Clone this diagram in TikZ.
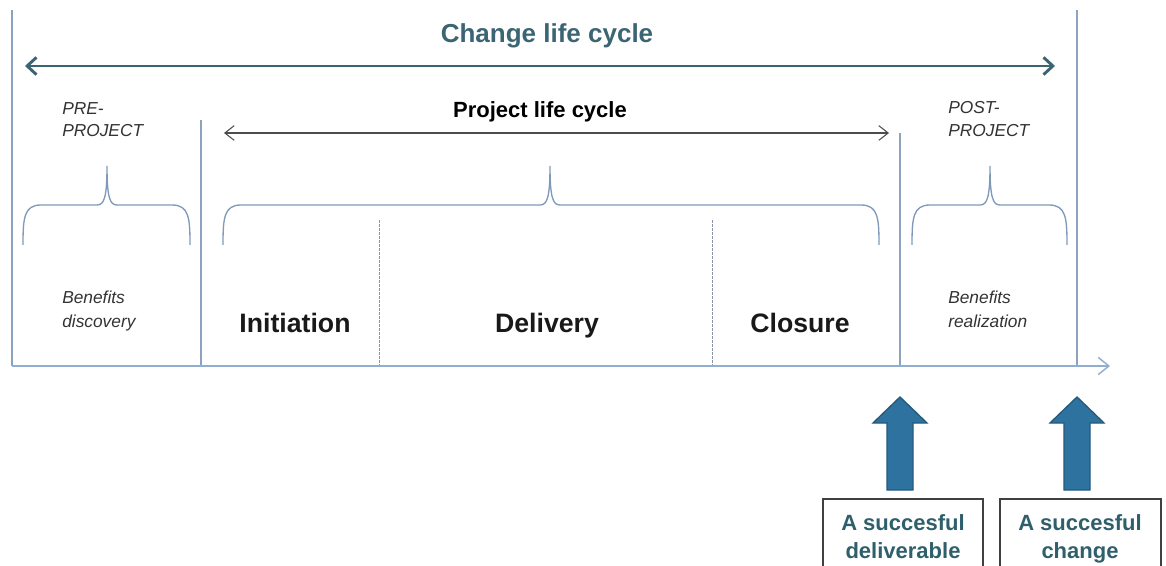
\documentclass[tikz,border=0pt]{standalone}
\usepackage{fontspec}
\setmainfont{Liberation Sans}
\usetikzlibrary{arrows.meta}

\definecolor{frameblue}{HTML}{8CA3C0}
\definecolor{bracecol}{HTML}{7F9AB8}
\definecolor{tealdark}{HTML}{3B6573}
\definecolor{boxtext}{HTML}{2F5F6B}
\definecolor{blockfill}{HTML}{2E73A0}
\definecolor{blockedge}{HTML}{25597C}
\definecolor{axisblue}{HTML}{8FAED0}
\definecolor{dashgray}{HTML}{8A96A8}

\begin{document}
\begin{tikzpicture}[x=0.75pt,y=-0.75pt,
  frameline/.style={draw=frameblue,line width=1.2pt},
  dashline/.style={draw=dashgray,line width=0.7pt,dash pattern=on 2pt off 1pt},
  bracepath/.style={draw=bracecol,line width=1pt},
  changearrow/.style={draw=tealdark,line width=2.2pt,
    arrows={Straight Barb[length=7pt,width=13pt]-Straight Barb[length=7pt,width=13pt]}},
  projarrow/.style={draw=black!70,line width=0.8pt,
    arrows={Straight Barb[length=7pt,width=11pt]-Straight Barb[length=7pt,width=11pt]}},
  axisarrow/.style={draw=axisblue,line width=1.1pt,
    arrows={-Straight Barb[length=8pt,width=13pt]}},
  bigtitle/.style={font=\fontsize{19.5pt}{22pt}\selectfont\bfseries,text=tealdark,anchor=base,inner sep=0pt},
  midtitle/.style={font=\fontsize{16.5pt}{19pt}\selectfont\bfseries,anchor=base,inner sep=0pt},
  phase/.style={font=\fontsize{20pt}{24pt}\selectfont\bfseries,text=black!90,anchor=base,inner sep=0pt},
  smallnote/.style={font=\fontsize{13pt}{16.5pt}\selectfont\itshape,text=black!80,anchor=base west,inner sep=0pt},
  blockarrow/.style={fill=blockfill,draw=blockedge,line width=1pt},
  resultbox/.style={draw=black!75,line width=1.1pt},
  resulttext/.style={font=\fontsize{16.5pt}{21pt}\selectfont\bfseries,text=boxtext,anchor=base,inner sep=0pt}
]
\useasboundingbox (0,0) rectangle (1166,566);
\clip (0,0) rectangle (1166,566);

% frame coordinates
\coordinate (lefttop) at (12,10);
\coordinate (leftbot) at (12,366);
\coordinate (righttop) at (1077,10);
\coordinate (rightbot) at (1077,366);
\coordinate (projstarttop) at (201,120);
\coordinate (projstartbot) at (201,366);
\coordinate (projendtop) at (900,133);
\coordinate (projendbot) at (900,366);
\coordinate (axisend) at (1110,366);
\coordinate (dashAtop) at (379,220);
\coordinate (dashAbot) at (379,366);
\coordinate (dashBtop) at (712,220);
\coordinate (dashBbot) at (712,366);

% vertical boundaries
\draw[frameline] (lefttop) -- (leftbot);
\draw[frameline] (righttop) -- (rightbot);
\draw[frameline] (projstarttop) -- (projstartbot);
\draw[frameline] (projendtop) -- (projendbot);
\draw[dashline] (dashAtop) -- (dashAbot);
\draw[dashline] (dashBtop) -- (dashBbot);

% time axis
\draw[axisarrow] (leftbot) -- (axisend);

% change life cycle
\node[bigtitle] (changetitle) at (547,43) {Change life cycle};
\coordinate (changeL) at (25,66);
\coordinate (changeR) at (1055,66);
\draw[changearrow] (changeL) -- (changeR);

% project life cycle
\node[midtitle] (projtitle) at (540,118) {Project life cycle};
\coordinate (projL) at (224,133);
\coordinate (projR) at (889,133);
\draw[projarrow] (projL) -- (projR);

% braces
\foreach \l/\t/\r in {23/107/190, 223/550/879, 912/990/1067}{
  \draw[bracepath] (\l,245) .. controls (\l,218) and (\l+1,205) .. (\l+18,205)
    -- (\t-10,205) .. controls (\t-3,205) and (\t,198) .. (\t,166)
    .. controls (\t,198) and (\t+3,205) .. (\t+10,205)
    -- (\r-18,205) .. controls (\r-1,205) and (\r,218) .. (\r,245);
}

% side notes
\node[smallnote] (pre1) at (62,115) {PRE-};
\node[smallnote] (pre2) at (62,137) {PROJECT};
\node[smallnote] (post1) at (948,114) {POST-};
\node[smallnote] (post2) at (948,137) {PROJECT};
\node[smallnote] (disc1) at (62,304) {Benefits};
\node[smallnote] (disc2) at (62,327) {discovery};
\node[smallnote] (real1) at (948,304) {Benefits};
\node[smallnote] (real2) at (948,327) {realization};

% phases
\node[phase] (initiation) at (295,333) {Initiation};
\node[phase] (delivery) at (547,333) {Delivery};
\node[phase] (closure) at (800,333) {Closure};

% outcome arrows
\draw[blockarrow] (887,490) -- (887,423) -- (873,423) -- (900,397) -- (927,423) -- (913,423) -- (913,490) -- cycle;
\draw[blockarrow] (1064,490) -- (1064,423) -- (1050,423) -- (1077,397) -- (1104,423) -- (1090,423) -- (1090,490) -- cycle;

% outcome boxes
\draw[resultbox] (823,499) rectangle (983,590);
\draw[resultbox] (1000,499) rectangle (1161,590);
\node[resulttext] (res1a) at (903,530) {A succesful};
\node[resulttext] (res1b) at (903,558) {deliverable};
\node[resulttext] (res2a) at (1080,530) {A succesful};
\node[resulttext] (res2b) at (1080,558) {change};
\end{tikzpicture}
\end{document}
